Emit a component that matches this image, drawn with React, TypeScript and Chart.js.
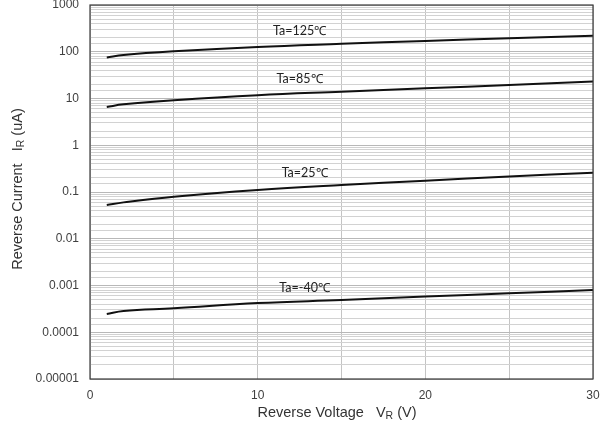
import React, { useEffect, useRef } from "react";
import { Chart, registerables } from "chart.js";

Chart.register(...registerables);

const voltages = [1, 2, 5, 10, 15, 20, 25, 30];
const current125 = [75, 85, 102, 127, 148, 170, 195, 220];
const current85 = [6.6, 7.5, 9.2, 11.8, 14, 16.5, 19.5, 23];
const current25 = [0.053, 0.06, 0.079, 0.11, 0.141, 0.175, 0.214, 0.259];
const currentM40 = [0.000245, 0.000285, 0.000325, 0.00042, 0.00049, 0.00058, 0.00068, 0.0008];

const seriesLabels = ["Ta=125℃", "Ta=85℃", "Ta=25℃", "Ta=-40℃"];
const labelX = [12.5, 12.5, 12.8, 12.8];
const labelY = [275, 26, 0.25, 0.00089];

const xTitle = ["Reverse Voltage   V", "R", " (V)"];
const yTitle = ["Reverse Current   I", "R", " (uA)"];

function drawSubTitle(ctx: CanvasRenderingContext2D, parts: string[], cx: number, cy: number, rot: number) {
  ctx.save();
  ctx.translate(cx, cy);
  ctx.rotate(rot);
  const big = "14.5px 'Liberation Sans', Arial, sans-serif";
  const small = "10.5px 'Liberation Sans', Arial, sans-serif";
  ctx.font = big;
  const w0 = ctx.measureText(parts[0]).width;
  const w2 = ctx.measureText(parts[2]).width;
  ctx.font = small;
  const w1 = ctx.measureText(parts[1]).width;
  const total = w0 + w1 + w2;
  let x = -total / 2;
  ctx.fillStyle = "#333";
  ctx.textBaseline = "middle";
  ctx.textAlign = "left";
  ctx.font = big;
  ctx.fillText(parts[0], x, 0);
  x += w0;
  ctx.font = small;
  ctx.fillText(parts[1], x, 3);
  x += w1;
  ctx.font = big;
  ctx.fillText(parts[2], x, 0);
  ctx.restore();
}

const decorPlugin = {
  id: "decor",
  afterDatasetsDraw(chart: any) {
    const { ctx, chartArea, scales } = chart;
    ctx.save();
    ctx.strokeStyle = "#3a3a3a";
    ctx.lineWidth = 1.2;
    ctx.strokeRect(chartArea.left, chartArea.top, chartArea.right - chartArea.left, chartArea.bottom - chartArea.top);
    ctx.font = "12.5px Lato, 'Liberation Sans', sans-serif";
    ctx.fillStyle = "#222";
    ctx.textAlign = "center";
    ctx.textBaseline = "middle";
    seriesLabels.forEach((t, i) => {
      ctx.fillText(t, scales.x.getPixelForValue(labelX[i]), scales.y.getPixelForValue(labelY[i]));
    });
    ctx.restore();
    drawSubTitle(ctx, xTitle, 337, 413, 0);
    drawSubTitle(ctx, yTitle, 18, 189, -Math.PI / 2);
  },
};

function isMajor(v: number) {
  const l = Math.log10(v);
  return Math.abs(l - Math.round(l)) < 1e-9;
}

export default function App() {
  const ref = useRef<HTMLCanvasElement>(null);
  useEffect(() => {
    if (!ref.current) return;
    const mk = (data: number[]) => ({
      data: voltages.map((v, i) => ({ x: v, y: data[i] })),
      borderColor: "#111",
      borderWidth: 2,
      pointRadius: 0,
      tension: 0.4,
      fill: false,
    });
    const chart = new Chart(ref.current, {
      type: "line",
      data: {
        datasets: [mk(current125), mk(current85), mk(current25), mk(currentM40)],
      },
      options: {
        animation: false,
        responsive: false,
        layout: { padding: { top: 5, right: 10, left: 0, bottom: 0 } },
        plugins: { legend: { display: false }, tooltip: { enabled: false } },
        scales: {
          x: {
            type: "linear",
            min: 0,
            max: 30,
            afterFit: (s: any) => { s.height = 50; s.paddingLeft = 0; s.paddingRight = 0; },
            ticks: {
              stepSize: 5,
              autoSkip: false,
              maxRotation: 0,
              padding: 9,
              color: "#404040",
              font: { family: "'Liberation Sans', Arial, sans-serif", size: 12 },
              callback: (v: any) => (Number(v) % 10 === 0 ? String(v) : ""),
            },
            grid: { color: "#c4c4c4", lineWidth: 1, drawTicks: false },
            border: { display: false },
          },
          y: {
            type: "logarithmic",
            min: 0.00001,
            max: 1000,
            afterFit: (s: any) => { s.width = 90; s.paddingTop = 0; s.paddingBottom = 0; },
            ticks: {
              autoSkip: false,
              padding: 11,
              color: "#404040",
              font: { family: "'Liberation Sans', Arial, sans-serif", size: 12 },
              callback: (v: any) => (isMajor(Number(v)) ? String(Number(v)) : ""),
            },
            grid: {
              drawTicks: false,
              color: (c: any) => (isMajor(c.tick?.value ?? 1) ? "#b8b8b8" : "#d2d2d2"),
              lineWidth: 1,
            },
            border: { display: false },
          },
        },
      },
      plugins: [decorPlugin],
    });
    return () => chart.destroy();
  }, []);
  return (
    <div style={{ position: "fixed", left: 0, top: 0, width: 603, height: 429, background: "#fff" }}>
      <canvas ref={ref} width={603} height={429} />
    </div>
  );
}
